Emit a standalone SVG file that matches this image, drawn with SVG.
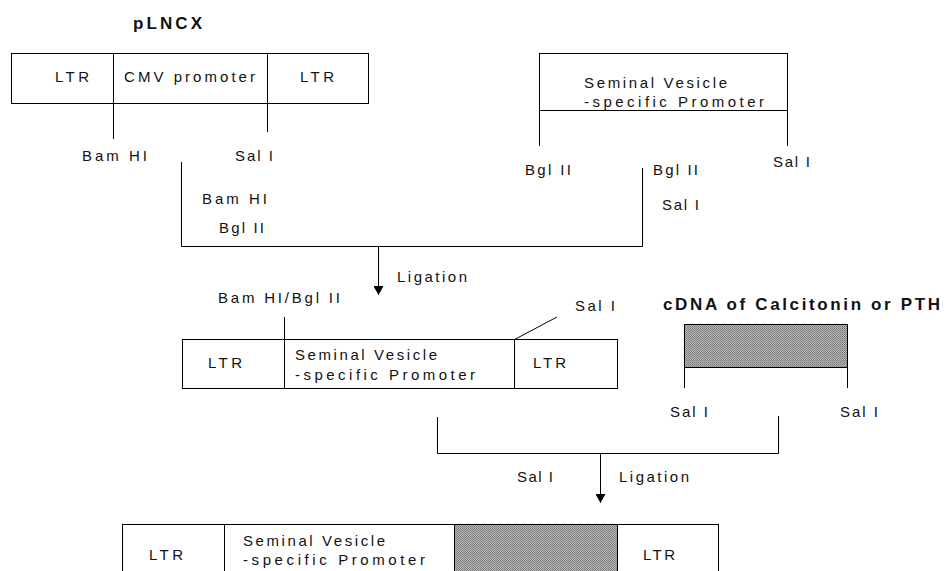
<svg xmlns="http://www.w3.org/2000/svg" width="945" height="571" viewBox="0 0 945 571">
<style>
text{font-family:"Liberation Sans",Arial,sans-serif;font-size:15px;fill:#111}
.t{font-weight:bold;font-size:17px}
.b{fill:none;stroke:#000;stroke-width:1}
.h{fill:url(#hatch);stroke:#000;stroke-width:1}
.c{fill:none;stroke:#000;stroke-width:1}
</style>
<defs>
<pattern id="hatch" width="2" height="2" patternUnits="userSpaceOnUse">
<rect width="2" height="2" fill="#b4b4b4"/>
<rect width="1" height="1" fill="#7a7a7a"/>
<rect x="1" y="1" width="1" height="1" fill="#8c8c8c"/>
</pattern>
<marker id="ah" markerWidth="9" markerHeight="10" refX="9" refY="5" orient="auto" markerUnits="userSpaceOnUse" viewBox="0 0 9 10">
<path d="M0,0 L9,5 L0,10 Z" fill="#000"/>
</marker>
</defs>

<text class="t" x="133" y="29" textLength="69" lengthAdjust="spacing">pLNCX</text>

<g id="pLNCX">
<rect class="b" x="11.5" y="53.5" width="357" height="50"/>
<line class="b" x1="113.5" y1="53" x2="113.5" y2="103"/>
<line class="b" x1="267.5" y1="53" x2="267.5" y2="103"/>
<text x="55" y="82" textLength="34" lengthAdjust="spacing">LTR</text>
<text x="124" y="82" textLength="131" lengthAdjust="spacing">CMV promoter</text>
<text x="300" y="82" textLength="34" lengthAdjust="spacing">LTR</text>
</g>

<g id="sv-promoter">
<rect class="b" x="539.5" y="53.5" width="248" height="57"/>
<text x="584" y="88" textLength="143" lengthAdjust="spacing">Seminal Vesicle</text>
<text x="584" y="107" textLength="180" lengthAdjust="spacing">-specific  Promoter</text>
</g>

<g id="construct1">
<rect class="b" x="182.5" y="339.5" width="435" height="49"/>
<line class="b" x1="284.5" y1="339" x2="284.5" y2="388"/>
<line class="b" x1="514.5" y1="339" x2="514.5" y2="388"/>
<text x="208" y="368" textLength="34" lengthAdjust="spacing">LTR</text>
<text x="295" y="360" textLength="142" lengthAdjust="spacing">Seminal Vesicle</text>
<text x="295" y="380" textLength="180" lengthAdjust="spacing">-specific  Promoter</text>
<text x="533" y="368" textLength="33" lengthAdjust="spacing">LTR</text>
</g>

<g id="cdna">
<text class="t" x="663" y="310" textLength="277" lengthAdjust="spacing">cDNA of Calcitonin or PTH</text>
<rect class="h" x="684.5" y="324.5" width="163" height="43"/>
</g>

<g id="construct2">
<rect class="b" x="122.5" y="524.5" width="596" height="60"/>
<rect class="h" x="454.5" y="524.5" width="163" height="60"/>
<line class="b" x1="224.5" y1="524" x2="224.5" y2="571"/>
<text x="149" y="560" textLength="34" lengthAdjust="spacing">LTR</text>
<text x="243" y="546" textLength="142" lengthAdjust="spacing">Seminal Vesicle</text>
<text x="243" y="565" textLength="182" lengthAdjust="spacing">-specific  Promoter</text>
<text x="643" y="560" textLength="32" lengthAdjust="spacing">LTR</text>
</g>

<g id="connectors">
<line class="c" x1="113.5" y1="103" x2="113.5" y2="139"/>
<line class="c" x1="267.5" y1="103" x2="267.5" y2="132"/>
<text x="82" y="161" textLength="65" lengthAdjust="spacing">Bam HI</text>
<text x="235" y="161" textLength="38" lengthAdjust="spacing">Sal I</text>
<line class="c" x1="539.5" y1="110" x2="539.5" y2="146"/>
<line class="c" x1="787.5" y1="110" x2="787.5" y2="146"/>
<text x="525" y="175" textLength="46" lengthAdjust="spacing">Bgl II</text>
<text x="653" y="175" textLength="45" lengthAdjust="spacing">Bgl II</text>
<text x="773" y="167" textLength="37" lengthAdjust="spacing">Sal I</text>
<path class="c" d="M181.5,162 V246.5 H642.5 V168"/>
<text x="202" y="204" textLength="65" lengthAdjust="spacing">Bam HI</text>
<text x="219" y="233" textLength="45" lengthAdjust="spacing">Bgl II</text>
<text x="662" y="210" textLength="37" lengthAdjust="spacing">Sal I</text>
<line class="c" x1="378.5" y1="246" x2="378.5" y2="295" marker-end="url(#ah)"/>
<text x="397" y="282" textLength="70" lengthAdjust="spacing">Ligation</text>
<text x="218" y="303" textLength="122" lengthAdjust="spacing">Bam HI/Bgl II</text>
<line class="c" x1="284.5" y1="317" x2="284.5" y2="339"/>
<line class="c" x1="514.5" y1="339.5" x2="557" y2="317"/>
<text x="575" y="311" textLength="40" lengthAdjust="spacing">Sal I</text>
<line class="c" x1="684.5" y1="367" x2="684.5" y2="388"/>
<line class="c" x1="847.5" y1="367" x2="847.5" y2="388"/>
<text x="670" y="417" textLength="38" lengthAdjust="spacing">Sal I</text>
<text x="840" y="417" textLength="38" lengthAdjust="spacing">Sal I</text>
<path class="c" d="M437.5,417 V453.5 H778.5 V416"/>
<line class="c" x1="600.5" y1="453" x2="600.5" y2="503" marker-end="url(#ah)"/>
<text x="517" y="482" textLength="36" lengthAdjust="spacing">Sal I</text>
<text x="619" y="482" textLength="70" lengthAdjust="spacing">Ligation</text>
</g>
</svg>
